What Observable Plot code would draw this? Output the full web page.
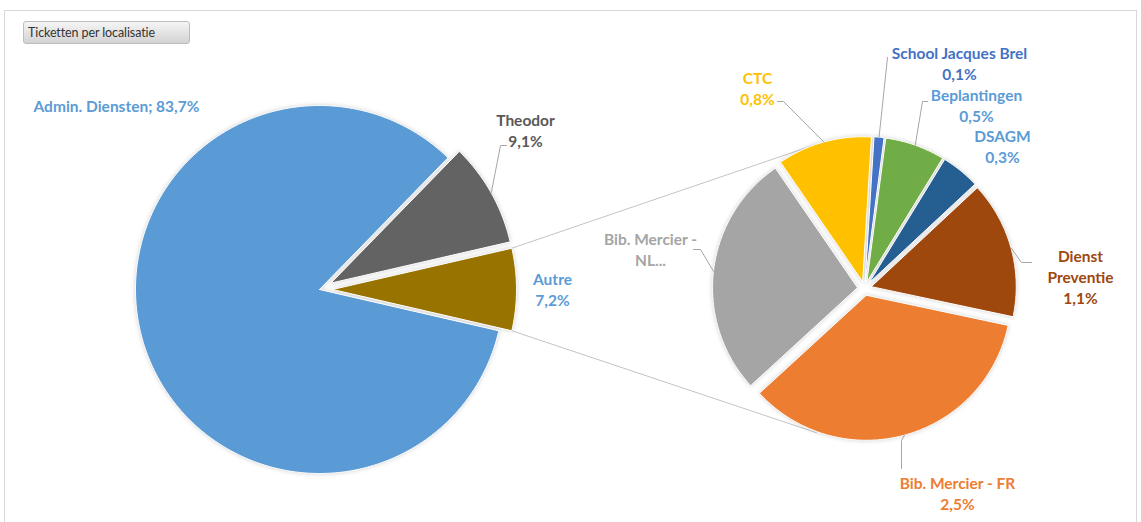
<!DOCTYPE html>
<html><head><meta charset="utf-8">
<script src="https://cdn.jsdelivr.net/npm/d3@7"></script>
<script src="https://cdn.jsdelivr.net/npm/@observablehq/plot@0.6"></script>
<style>
body{margin:0;background:#fff;}
#wrap{position:relative;width:1141px;height:522px;overflow:hidden;}
#frame{position:absolute;left:4px;top:10px;width:1133px;height:540px;border:1px solid #d9d9d9;box-sizing:border-box;}
#title{position:absolute;left:23px;top:21px;width:167px;height:23px;box-sizing:border-box;border:1px solid #bdbdbd;border-radius:3px;background:linear-gradient(#f5f5f5,#d3d3d3);font:12.5px Lato,"Open Sans",sans-serif;color:#333;padding-left:4px;line-height:21px;letter-spacing:-0.1px;}
#chart{position:absolute;left:0;top:0;}
#chart .slices{filter:drop-shadow(0 0 2px rgba(0,0,0,0.18));}
</style></head><body>
<div id="wrap"><div id="frame"></div><div id="chart"></div><div id="title">Ticketten per localisatie</div></div>
<script>
// ---- data ----
const mainNames = ["Admin. Diensten", "Theodor", "Autre"];
const mainValues = [83.7, 9.1, 7.2];
const subNames = ["School Jacques Brel", "Beplantingen", "DSAGM", "Dienst Preventie", "Bib. Mercier - FR", "Bib. Mercier - NL...", "CTC"];
const subValues = [0.08, 0.48, 0.31, 1.10, 2.51, 1.96, 0.76];

// ---- styles ----
const sliceColor = {
  "Admin. Diensten": "#5B9BD5", "Theodor": "#636363", "Autre": "#997300",
  "School Jacques Brel": "#4472C4", "Beplantingen": "#70AD47", "DSAGM": "#255E91",
  "Dienst Preventie": "#9E480E", "Bib. Mercier - FR": "#ED7D31", "Bib. Mercier - NL...": "#A5A5A5", "CTC": "#FFC000"
};
const labelColor = {
  "Admin. Diensten": "#5B9BD5", "Theodor": "#595959", "Autre": "#5B9BD5",
  "School Jacques Brel": "#4472C4", "Beplantingen": "#5B9BD5", "DSAGM": "#5B9BD5",
  "Dienst Preventie": "#9E480E", "Bib. Mercier - FR": "#ED7D31", "Bib. Mercier - NL...": "#A5A5A5", "CTC": "#FFC000"
};

// ---- layout ----
const W = 1141, H = 522;
const mainPie = {cx: 319, cy: 289, r: 184, start: 90 + 3.6 * 7.2 / 2, explode: {"Theodor": 13, "Autre": 13}};
const subPie = {cx: 864, cy: 288, r: 145, start: 3.5, explode: 7};
const pct = v => d3.format(".1f")(v).replace(".", ",") + "%";
const stack = (n, p) => `${n}\n${p}`;
const labelLayout = {
  "Admin. Diensten": {x: 33, y: 105, anchor: "start", fmt: (n, p) => `${n}; ${p}`},
  "Theodor": {x: 525, y: 129, fmt: stack, leader: [[500, 145], [506, 145]]},
  "Autre": {x: 552, y: 288, fmt: stack},
  "CTC": {x: 757, y: 87, fmt: stack, leader: [[783, 101], [777, 101]]},
  "School Jacques Brel": {x: 959, y: 62, fmt: stack, leader: [[887, 57]]},
  "Beplantingen": {x: 976, y: 104, fmt: stack, leader: [[922, 101], [927, 101]]},
  "DSAGM": {x: 1002, y: 145, fmt: stack},
  "Dienst Preventie": {x: 1080, y: 276, fmt: (n, p) => n.split(" ").join("\n") + "\n" + p, leader: [[1021, 262], [1031, 262]]},
  "Bib. Mercier - FR": {x: 957, y: 492, fmt: stack, leader: [[901, 440], [901, 468]]},
  "Bib. Mercier - NL...": {x: 650, y: 248, fmt: n => n.replace(" NL", "\nNL"), leader: [[700, 249], [693, 249]]}
};

// ---- geometry ----
const rad = d => d * Math.PI / 180;
const pt = (cx, cy, r, a) => [cx + r * Math.sin(a), cy - r * Math.cos(a)];
function slices(names, values, pie) {
  const arcs = d3.pie().sort(null).startAngle(rad(pie.start)).endAngle(rad(pie.start) + 2 * Math.PI)(values);
  return arcs.map((a, i) => {
    const name = names[i];
    const ex = typeof pie.explode === "number" ? pie.explode : (pie.explode[name] || 0);
    const mid = (a.startAngle + a.endAngle) / 2;
    const [tx, ty] = pt(pie.cx, pie.cy, ex, mid);
    const n = Math.max(2, Math.ceil((a.endAngle - a.startAngle) / rad(0.5)));
    const verts = [[tx, ty]];
    for (let k = 0; k <= n; k++) verts.push(pt(tx, ty, pie.r, a.startAngle + (a.endAngle - a.startAngle) * k / n));
    verts.push([tx, ty]);
    return {name, value: values[i], a0: a.startAngle, a1: a.endAngle, mid, tx, ty, r: pie.r, verts};
  });
}
const mainS = slices(mainNames, mainValues, mainPie);
const subS = slices(subNames, subValues, subPie);
const allS = [...mainS, ...subS];

const sliceVerts = allS.flatMap(s => s.verts.map(([x, y]) => ({name: s.name, x, y, fill: sliceColor[s.name]})));

// connector lines: from "Autre" outer corners to tangents of the secondary pie
const other = mainS.find(s => s.name === "Autre");
const R = subPie.r + subPie.explode;
function tangent(P, sign) {
  const dx = subPie.cx - P[0], dy = subPie.cy - P[1];
  const d = Math.hypot(dx, dy), phi = Math.atan2(dy, dx), al = Math.asin(R / d), L = Math.sqrt(d * d - R * R);
  const t = phi + sign * al;
  return [P[0] + L * Math.cos(t), P[1] + L * Math.sin(t)];
}
const cTop = pt(other.tx, other.ty, other.r, other.a0);
const cBot = pt(other.tx, other.ty, other.r, other.a1);
const connectors = [
  {id: "top", pts: [cTop, tangent(cTop, -1)]},
  {id: "bot", pts: [cBot, tangent(cBot, 1)]}
].flatMap(c => c.pts.map(([x, y]) => ({id: c.id, x, y})));

// labels and leaders
const labels = allS.map(s => {
  const L = labelLayout[s.name];
  return {name: s.name, x: L.x, y: L.y, anchor: L.anchor || "middle", text: L.fmt(s.name, pct(s.value)), color: labelColor[s.name]};
});
const leaders = allS.filter(s => labelLayout[s.name].leader).flatMap(s => {
  const e = pt(s.tx, s.ty, s.r, s.mid);
  return [e, ...labelLayout[s.name].leader].map(([x, y]) => ({name: s.name, x, y}));
});
const textOpts = {x: "x", y: "y", text: "text", fill: "color", fontSize: 15.5, fontWeight: "bold", lineHeight: 1.36};

const chart = Plot.plot({
  width: W, height: H, margin: 0,
  x: {domain: [0, W], range: [0, W], axis: null},
  y: {domain: [0, H], range: [0, H], axis: null},
  color: {type: "identity"},
  style: {fontFamily: "Lato, 'Open Sans', sans-serif", background: "transparent"},
  marks: [
    Plot.line(connectors, {x: "x", y: "y", z: "id", stroke: "#c4c4c4", strokeWidth: 1}),
    Plot.line(sliceVerts, {x: "x", y: "y", z: "name", fill: "fill", stroke: "white", strokeWidth: 1, strokeLinejoin: "round", className: "slices"}),
    Plot.line(leaders, {x: "x", y: "y", z: "name", stroke: "#a6a6a6", strokeWidth: 1}),
    Plot.text(labels.filter(d => d.anchor === "start"), {...textOpts, textAnchor: "start"}),
    Plot.text(labels.filter(d => d.anchor !== "start"), {...textOpts, textAnchor: "middle"})
  ]
});
document.getElementById("chart").appendChild(chart);
</script>
</body></html>
